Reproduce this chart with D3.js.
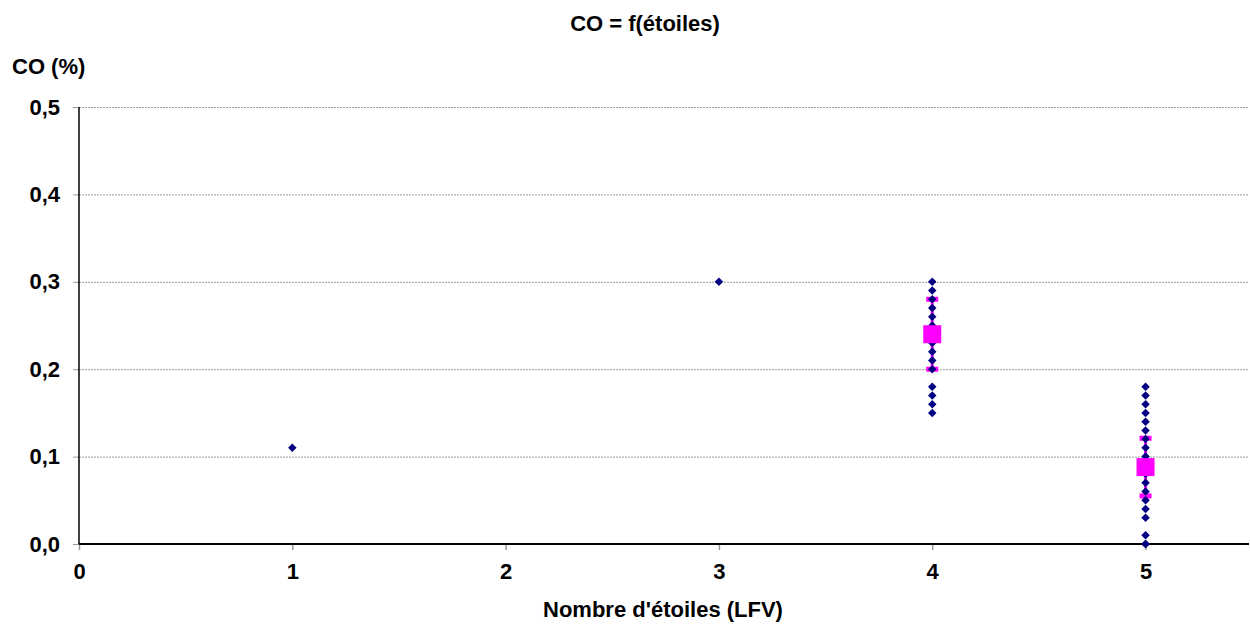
<!DOCTYPE html>
<html><head><meta charset="utf-8">
<script src="https://cdn.jsdelivr.net/npm/d3@7"></script>
<style>body{margin:0;background:#fff}svg{display:block}text{font-family:"Liberation Sans",Arial,sans-serif;font-weight:bold;fill:#000}</style>
</head><body>
<svg id="c" width="1250" height="624"></svg>
<script>
// raw observations: stars (LFV) and CO (%)
const starsX = [1, 3,
  4,4,4,4,4,4,4,4,4,4,4,4,4,4,4,
  5,5,5,5,5,5,5,5,5,5,5,5,5,5,5,5,5,5,5];
const coY = [0.11, 0.30,
  0.30,0.29,0.28,0.27,0.26,0.25,0.24,0.23,0.22,0.21,0.20,0.18,0.17,0.16,0.15,
  0.18,0.17,0.16,0.15,0.14,0.13,0.12,0.11,0.10,0.09,0.08,0.07,0.06,0.05,0.04,0.03,0.01,0.00,0.00];
// means with standard deviations
const meanX = [4, 5];
const meanY = [0.24, 0.088];
const meanSd = [0.04, 0.033];
const xTicks = [0,1,2,3,4,5];
const yTicks = [0,0.1,0.2,0.3,0.4,0.5];

const svg = d3.select("#c");
const L = 79, R = 1249, T = 107, B = 544;
const x = d3.scaleLinear().domain([0, 5.485]).range([L, R]);
const y = d3.scaleLinear().domain([0, 0.5]).range([B, T]);

// gridlines
svg.append("g").selectAll("line").data(yTicks.filter(d => d > 0)).join("line")
  .attr("x1", L).attr("x2", R).attr("y1", d => y(d) + 0.5).attr("y2", d => y(d) + 0.5)
  .attr("stroke", "#999").attr("stroke-width", 1).attr("stroke-dasharray", "2,1");

// y axis
const ya = svg.append("g").attr("transform", `translate(${L},0)`)
  .call(d3.axisLeft(y).tickValues(yTicks).tickSize(6).tickPadding(13)
    .tickFormat(d => d3.format(".1f")(d).replace(".", ",")));
ya.select(".domain").remove();
ya.selectAll(".tick line").attr("stroke", "#999");
ya.selectAll("text").style("font-size", "22px").attr("fill", "#000");
svg.append("line").attr("x1", L).attr("x2", L).attr("y1", T).attr("y2", B).attr("stroke", "#000").attr("stroke-width", 1.5);

// x axis
const xa = svg.append("g").attr("transform", `translate(0,${B})`)
  .call(d3.axisBottom(x).tickValues(xTicks).tickSize(6).tickPadding(13).tickFormat(d3.format("d")));
xa.select(".domain").remove();
xa.selectAll(".tick line").attr("stroke", "#999").attr("stroke-width", 1.5);
xa.selectAll("text").style("font-size", "22px").attr("fill", "#000");
svg.append("line").attr("x1", L).attr("x2", R).attr("y1", B).attr("y2", B).attr("stroke", "#000").attr("stroke-width", 2);

// error bars
const eb = svg.append("g");
meanX.forEach((mx, i) => {
  const cx = x(mx), y1 = y(meanY[i] - meanSd[i]), y2 = y(meanY[i] + meanSd[i]);
  eb.append("line").attr("x1", cx).attr("x2", cx).attr("y1", y1).attr("y2", y2)
    .attr("stroke", "#ff00ff").attr("stroke-width", 3);
  [y1, y2].forEach(yy => eb.append("rect").attr("x", cx - 6).attr("y", yy - 2.5)
    .attr("width", 12).attr("height", 5).attr("fill", "#ff00ff"));
});

// diamonds
const sym = d3.symbol().type(d3.symbolDiamond2).size(46);
svg.append("g").selectAll("path").data(starsX.map((d, i) => [d, coY[i]])).join("path")
  .attr("d", sym)
  .attr("transform", d => `translate(${x(d[0])},${y(d[1])})`)
  .attr("fill", "#000080");

// mean squares
svg.append("g").selectAll("rect").data(meanX.map((d, i) => [d, meanY[i]])).join("rect")
  .attr("x", d => x(d[0]) - 9).attr("y", d => y(d[1]) - 9)
  .attr("width", 18).attr("height", 18).attr("fill", "#ff00ff");

// titles
svg.append("text").attr("x", 645).attr("y", 31).attr("text-anchor", "middle").style("font-size", "22px").text("CO = f(étoiles)");
svg.append("text").attr("x", 12).attr("y", 74).style("font-size", "22px").text("CO (%)");
svg.append("text").attr("x", 663).attr("y", 617).attr("text-anchor", "middle").style("font-size", "22px").text("Nombre d'étoiles (LFV)");
</script>
</body></html>
